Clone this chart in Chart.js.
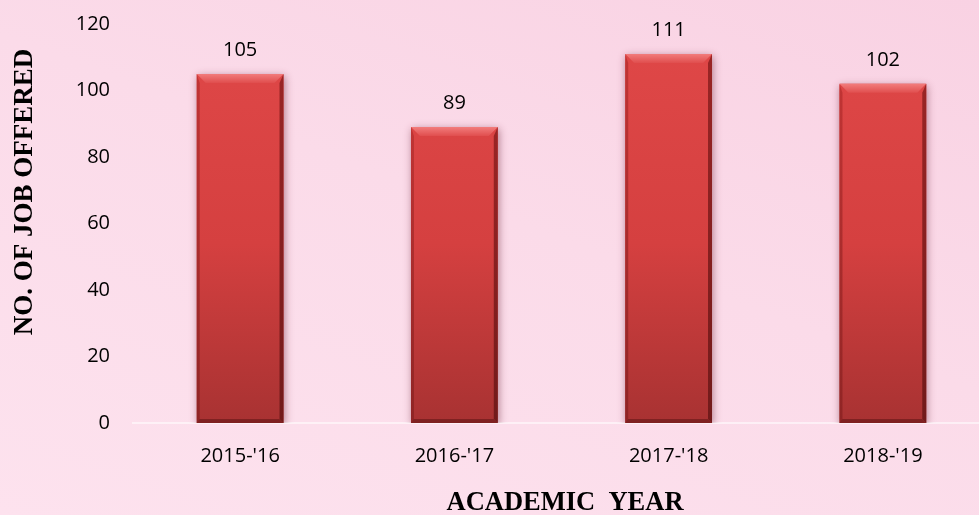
<!DOCTYPE html>
<html>
<head>
<meta charset="utf-8">
<script src="https://cdn.jsdelivr.net/npm/chart.js@4"></script>
<style>
  html, body { margin: 0; padding: 0; }
  body {
    width: 979px; height: 515px; overflow: hidden;
    background: linear-gradient(200deg, #f9d2e3 0%, #fbdbe9 45%, #fde2ee 100%);
  }
  #wrap { width: 979px; height: 515px; overflow: hidden; position: relative; }
</style>
</head>
<body>
<div id="wrap"><canvas id="chart" width="990" height="515"></canvas></div>
<script>
const years = ["2015-'16", "2016-'17", "2017-'18", "2018-'19"]
const jobsOffered = [105, 89, 111, 102]
const yTicks = [0, 20, 40, 60, 80, 100, 120]
const yTitle = 'NO. OF JOB OFFERED'
const xTitle = 'ACADEMIC  YEAR'

const tickFont = { family: "'Open Sans', sans-serif", size: 20 }

// soft shadow under the bars
const barShadow = {
  id: 'barShadow',
  beforeDatasetDraw(chart) {
    const ctx = chart.ctx
    ctx.save()
    ctx.shadowColor = 'rgba(90, 10, 30, 0.45)'
    ctx.shadowBlur = 8
    ctx.shadowOffsetX = 1
    ctx.shadowOffsetY = 2
  },
  afterDatasetDraw(chart) {
    chart.ctx.restore()
  }
}

// bevel edges + value labels
const bevel = {
  id: 'bevel',
  afterDatasetsDraw(chart) {
    const ctx = chart.ctx
    const meta = chart.getDatasetMeta(0)
    meta.data.forEach((bar, i) => {
      const { x, y, base, width } = bar.getProps(['x', 'y', 'base', 'width'], true)
      const l = x - width / 2, r = x + width / 2
      const b = 9
      ctx.save()
      // top bevel
      let g = ctx.createLinearGradient(0, y, 0, y + b)
      g.addColorStop(0, '#f27c7c')
      g.addColorStop(1, '#e04e4e')
      ctx.fillStyle = g
      ctx.beginPath()
      ctx.moveTo(l, y); ctx.lineTo(r, y); ctx.lineTo(r - b, y + b); ctx.lineTo(l + b, y + b); ctx.closePath()
      ctx.fill()
      // left bevel
      g = ctx.createLinearGradient(0, y, 0, base)
      g.addColorStop(0, 'rgba(190,50,50,0.9)')
      g.addColorStop(1, 'rgba(140,35,35,0.9)')
      ctx.fillStyle = g
      ctx.beginPath()
      ctx.moveTo(l, y); ctx.lineTo(l + 3, y + b); ctx.lineTo(l + 3, base - 3); ctx.lineTo(l, base); ctx.closePath()
      ctx.fill()
      // right bevel
      g = ctx.createLinearGradient(0, y, 0, base)
      g.addColorStop(0, 'rgba(150,35,35,0.95)')
      g.addColorStop(1, 'rgba(110,25,25,0.95)')
      ctx.fillStyle = g
      ctx.beginPath()
      ctx.moveTo(r, y); ctx.lineTo(r - 4, y + b); ctx.lineTo(r - 4, base - 4); ctx.lineTo(r, base); ctx.closePath()
      ctx.fill()
      // bottom bevel
      ctx.fillStyle = 'rgba(120,30,30,0.85)'
      ctx.beginPath()
      ctx.moveTo(l, base); ctx.lineTo(r, base); ctx.lineTo(r - 4, base - 4); ctx.lineTo(l + 3, base - 4); ctx.closePath()
      ctx.fill()
      // value label
      ctx.fillStyle = '#000'
      ctx.font = "20px 'Open Sans', sans-serif"
      ctx.textAlign = 'center'
      ctx.textBaseline = 'middle'
      ctx.fillText(jobsOffered[i], x, y - 24)
      ctx.restore()
    })
  }
}

// axis titles in Times-like bold
const titles = {
  id: 'titles',
  afterDraw(chart) {
    const ctx = chart.ctx
    ctx.save()
    ctx.fillStyle = '#000'
    ctx.textAlign = 'center'
    ctx.textBaseline = 'middle'
    ctx.font = "bold 26.5px 'Liberation Serif', 'Times New Roman', serif"
    ctx.fillText(xTitle, 565, 503)
    ctx.font = "bold 27px 'Liberation Serif', 'Times New Roman', serif"
    ctx.translate(25, 192)
    ctx.rotate(-Math.PI / 2)
    ctx.fillText(yTitle, 0, 0)
    ctx.restore()
  }
}

new Chart(document.getElementById('chart'), {
  type: 'bar',
  data: {
    labels: years,
    datasets: [{
      data: jobsOffered,
      backgroundColor: (c) => {
        const area = c.chart.chartArea
        if (!area) return '#d84242'
        const g = c.chart.ctx.createLinearGradient(0, area.top, 0, area.bottom)
        g.addColorStop(0, '#e04848')
        g.addColorStop(0.55, '#d54040')
        g.addColorStop(1, '#a83232')
        return g
      },
      borderWidth: 0,
      barPercentage: 0.405,
      categoryPercentage: 1
    }]
  },
  options: {
    responsive: false,
    animation: false,
    events: [],
    layout: { padding: { top: 24, right: 0, left: 0, bottom: 0 } },
    scales: {
      x: {
        grid: { display: false, drawTicks: false },
        border: { display: true, color: 'rgba(255,255,255,0.55)', width: 2 },
        ticks: { color: '#000', font: tickFont, padding: 21 },
        afterFit: s => { s.height = 92 }
      },
      y: {
        min: 0,
        max: 120,
        // hidden tick marks only push the labels left
        grid: { display: false, drawTicks: true, tickLength: 23 },
        border: { display: false },
        afterBuildTicks: s => { s.ticks = yTicks.map(v => ({ value: v })) },
        ticks: { color: '#000', font: tickFont, padding: 0 },
        afterFit: s => { s.width = 133 }
      }
    },
    plugins: {
      legend: { display: false },
      tooltip: { enabled: false }
    }
  },
  plugins: [barShadow, bevel, titles]
})
</script>
</body>
</html>
